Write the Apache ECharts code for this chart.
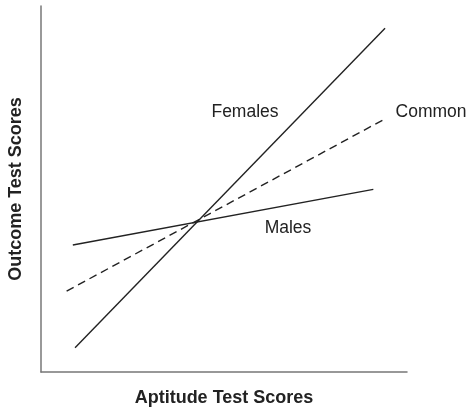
<!DOCTYPE html>
<html>
<head>
<meta charset="utf-8">
<script src="https://cdn.jsdelivr.net/npm/echarts@6/dist/echarts.min.js"></script>
<style>
  html, body { margin: 0; padding: 0; background: #fff; }
  #chart { width: 471px; height: 408px; }
</style>
</head>
<body>
<div id="chart"></div>
<script>
// line end points, in axis units (0..100 both ways)
const females = [[9.3, 6.6], [94.0, 93.9]]
const common = [[7.0, 22.1], [93.7, 69.0]]
const males = [[8.7, 34.7], [90.8, 49.9]]
const lineNames = ['Females', 'Common', 'Males']

const chart = echarts.init(document.getElementById('chart'))
const ink = '#222'
const labelFont = '17.5px Liberation Sans, Arial, sans-serif'

const option = {
  animation: false,
  textStyle: { fontFamily: 'Liberation Sans, Arial, sans-serif' },
  grid: { left: 41, top: 6, width: 366, height: 366, containLabel: false, outerBoundsMode: 'none' },
  xAxis: {
    type: 'value',
    min: 0,
    max: 100,
    name: 'Aptitude Test Scores',
    nameLocation: 'middle',
    nameGap: 17,
    nameTextStyle: { fontSize: 18, fontWeight: 'bold', color: ink },
    axisLine: { lineStyle: { color: '#777', width: 1.5 } },
    axisTick: { show: false },
    axisLabel: { show: false },
    splitLine: { show: false }
  },
  yAxis: {
    type: 'value',
    min: 0,
    max: 100,
    name: 'Outcome Test Scores',
    nameLocation: 'middle',
    nameGap: 16,
    nameTextStyle: { fontSize: 18, fontWeight: 'bold', color: ink },
    axisLine: { show: true, lineStyle: { color: '#777', width: 1.5 } },
    axisTick: { show: false },
    axisLabel: { show: false },
    splitLine: { show: false }
  },
  series: [
    {
      name: lineNames[0],
      type: 'line',
      data: females,
      symbol: 'none',
      lineStyle: { color: ink, width: 1.4 }
    },
    {
      name: lineNames[1],
      type: 'line',
      data: common,
      symbol: 'none',
      lineStyle: { color: ink, width: 1.4, type: [8, 5] }
    },
    {
      name: lineNames[2],
      type: 'line',
      data: males,
      symbol: 'none',
      lineStyle: { color: ink, width: 1.4 }
    }
  ],
  graphic: [
    { type: 'text', x: 245, y: 112, style: { text: lineNames[0], fill: ink, font: labelFont, textAlign: 'center', textVerticalAlign: 'middle' } },
    { type: 'text', x: 431, y: 112, style: { text: lineNames[1], fill: ink, font: labelFont, textAlign: 'center', textVerticalAlign: 'middle' } },
    { type: 'text', x: 288, y: 228, style: { text: lineNames[2], fill: ink, font: labelFont, textAlign: 'center', textVerticalAlign: 'middle' } }
  ]
}
chart.setOption(option)
</script>
</body>
</html>
